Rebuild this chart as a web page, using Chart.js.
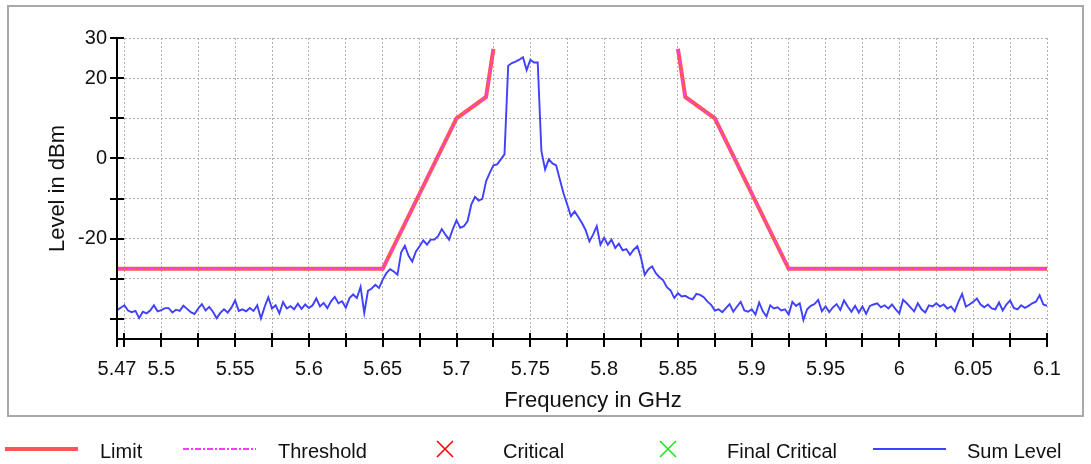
<!DOCTYPE html>
<html><head><meta charset="utf-8">
<script src="https://cdn.jsdelivr.net/npm/chart.js@4.4.1/dist/chart.umd.min.js"></script>
<style>html,body{margin:0;padding:0;background:#fff;}#wrap{width:1091px;height:464px;}</style>
</head><body><div id="wrap"><canvas id="c" width="1091" height="464"></canvas></div>
<script>
const FONT = '"Liberation Sans", Arial, sans-serif';

// Sweep grid (GHz) and measured sum level (dBm)
const sweepStart = 5.47;
const sweepStep = 0.0025;
const sumLevel = [
-37.8,-37.2,-36.6,-37.9,-38.3,-38.0,-39.8,-38.2,-38.6,-37.9,
-36.6,-38.1,-37.8,-37.3,-37.3,-38.4,-37.7,-38.0,-36.7,-37.5,
-38.3,-38.8,-37.4,-36.3,-37.9,-37.0,-38.2,-39.8,-38.5,-37.6,
-38.4,-37.2,-35.4,-38.0,-37.6,-38.1,-37.3,-38.0,-36.6,-39.9,
-37.0,-34.6,-37.4,-36.6,-38.6,-35.8,-37.4,-36.8,-37.6,-36.2,
-37.5,-36.4,-37.3,-36.6,-34.9,-36.9,-36.0,-37.3,-35.6,-34.5,
-36.1,-35.6,-37.2,-34.8,-33.9,-34.8,-32.0,-38.5,-33.0,-32.4,
-31.5,-32.3,-30.2,
-28.6,-27.6,-28.2,-29.0,-23.4,-21.75,-24.25,-25.7,-23.2,-21.9,
-20.4,-21.5,-20.25,-20.25,-19.4,-17.6,-19.0,-20.25,-17.6,-15.4,
-17.3,-16.9,-15.6,-11.5,-9.6,-10.5,-10.1,-5.7,-3.6,-1.75,
-1.5,-0.25,1.0,
23.1,23.75,24.1,24.6,25.2,22.0,24.6,23.9,23.9,1.8,
-2.75,-0.25,-1.25,-1.75,-5.25,-8.75,-11.5,-14.4,-13.2,-14.6,
-16.1,-17.9,-20.7,-19.0,-16.9,-21.5,-19.8,-21.5,-20.25,-22.3,
-21.25,-22.9,-22.6,-24.0,-22.75,-21.9,-24.8,-29.0,-27.6,-26.9,
-28.6,-29.6,-30.4,-32.1,-32.9,-34.8,-33.6,-34.4,-34.25,-34.8,
-35.1,-33.75,-34.0,-34.6,-35.7,-36.5,-37.9,-37.6,-38.3,-37.3,
-36.3,-38.2,-36.9,-35.75,-37.9,-38.2,-37.6,-38.9,-35.9,-38.1,
-39.4,-36.6,-37.4,-37.1,-37.9,-37.6,-38.9,-35.75,-36.75,-36.1,
-40.25,-37.6,-36.75,-36.3,-35.25,-38.1,-36.9,-38.3,-37.1,-36.3,
-37.75,-35.4,-36.9,-38.2,-36.75,-38.4,-36.9,-38.75,
-36.75,-36.4,-36.1,-37.1,-36.6,-37.4,-36.4,-37.6,-38.6,-35.25,
-36.1,-37.1,-38.1,-36.1,-37.6,-38.4,-36.6,-36.9,-36.1,-36.9,
-36.4,-37.4,-36.9,-38.1,-35.75,-33.75,-36.9,-36.4,-35.75,-34.9,
-36.4,-37.1,-36.4,-37.4,-37.6,-35.9,-37.9,-36.4,-35.4,-37.25,
-37.6,-36.6,-37.25,-36.75,-36.1,-35.7,-34.1,-36.4,-36.75
];

// Limit / threshold mask (null = gap)
const limitFreq  = [5.47, 5.65, 5.70, 5.72, 5.725, 5.7875, 5.85, 5.855, 5.875, 5.925, 6.10];
const limitLevel = [-27.5, -27.5, 10, 15.3, 27.3, null, 27.3, 15.3, 10, -27.5, -27.5];

// Axis ticks
const xTickValues = [5.47,5.475,5.5,5.525,5.55,5.575,5.6,5.625,5.65,5.675,5.7,5.725,5.75,5.775,5.8,5.825,5.85,5.875,5.9,5.925,5.95,5.975,6.0,6.025,6.05,6.075,6.1];
const xLabelValues = [5.47,5.5,5.55,5.6,5.65,5.7,5.75,5.8,5.85,5.9,5.95,6.0,6.05,6.1];
const yTickValues = [30,20,10,0,-10,-20,-30,-40];
const yLabelValues = [30,20,0,-20];

const seriesNames = ['Limit','Threshold','Critical','Final Critical','Sum Level'];

const sumPoints = sumLevel.map((v,i)=>({x: Math.round((sweepStart + i*sweepStep)*10000)/10000, y: v}));
const limitPoints = limitFreq.map((f,i)=>({x: f, y: limitLevel[i]}));

const hasVal = (arr, v) => arr.some(a => Math.abs(a - v) < 1e-6);

const legendLayout = [
  {sx: 5,   tx: 100},
  {sx: 183, tx: 278},
  {sx: 409, tx: 503},
  {sx: 632, tx: 727},
  {sx: 873, tx: 967}
];

const decor = {
  id: 'decor',
  beforeDraw(chart) {
    const ctx = chart.ctx;
    ctx.save();
    ctx.fillStyle = '#fff';
    ctx.fillRect(0, 0, chart.width, chart.height);
    ctx.strokeStyle = '#a8a8a8';
    ctx.lineWidth = 2;
    ctx.strokeRect(8, 6, 1075, 410);
    ctx.restore();
  },
  afterDraw(chart) {
    const {ctx, scales: {x, y}, chartArea: a} = chart;
    ctx.save();
    ctx.strokeStyle = '#000';
    ctx.lineWidth = 2;
    ctx.beginPath();
    ctx.moveTo(a.left, a.top); ctx.lineTo(a.left, a.bottom);
    ctx.moveTo(a.left, a.bottom); ctx.lineTo(a.right, a.bottom);
    for (const v of yTickValues) {
      const py = Math.round(y.getPixelForValue(v));
      ctx.moveTo(a.left - 7, py); ctx.lineTo(a.left + 7, py);
    }
    for (const v of xTickValues) {
      const px = Math.round(x.getPixelForValue(v));
      ctx.moveTo(px, a.bottom - 6); ctx.lineTo(px, a.bottom + 8);
    }
    ctx.stroke();

    ctx.fillStyle = '#111';
    ctx.font = '22px ' + FONT;
    ctx.textAlign = 'center';
    ctx.textBaseline = 'middle';
    ctx.fillText('Frequency in GHz', 593, 401);

    // legend
    const ly = 449;
    chart.data.datasets.forEach((ds, i) => {
      const L = legendLayout[i];
      ctx.save();
      ctx.strokeStyle = ds.borderColor;
      if (ds.pointStyle === 'crossRot') {
        const cx = L.sx + 36, r = 8;
        ctx.lineWidth = 1.6;
        ctx.beginPath();
        ctx.moveTo(cx - r, ly - r); ctx.lineTo(cx + r, ly + r);
        ctx.moveTo(cx + r, ly - r); ctx.lineTo(cx - r, ly + r);
        ctx.stroke();
      } else {
        ctx.lineWidth = ds.legendWidth;
        ctx.setLineDash(ds.legendDash || []);
        ctx.beginPath();
        ctx.moveTo(L.sx, ly); ctx.lineTo(L.sx + 73, ly);
        ctx.stroke();
      }
      ctx.restore();
      ctx.fillStyle = '#111';
      ctx.font = '20px ' + FONT;
      ctx.textAlign = 'left';
      ctx.textBaseline = 'alphabetic';
      ctx.fillText(ds.label, L.tx, 458);
    });
    ctx.restore();
  }
};

new Chart(document.getElementById('c'), {
  type: 'line',
  data: {
    datasets: [
      {label: seriesNames[0], data: limitPoints, borderColor: 'rgb(255,84,84)', borderWidth: 4, legendWidth: 4, pointRadius: 0, spanGaps: false, order: 3},
      {label: seriesNames[1], data: limitPoints, borderColor: 'rgb(255,60,255)', borderWidth: 1.5, legendWidth: 2, borderDash: [5,2,1.5,2], legendDash: [6,2,2,2], pointRadius: 0, spanGaps: false, order: 2},
      {label: seriesNames[2], data: [], borderColor: 'rgb(255,0,0)', pointStyle: 'crossRot', showLine: false, order: 1},
      {label: seriesNames[3], data: [], borderColor: 'rgb(30,230,30)', pointStyle: 'crossRot', showLine: false, order: 1},
      {label: seriesNames[4], data: sumPoints, borderColor: 'rgb(64,64,255)', borderWidth: 1.9, legendWidth: 2, pointRadius: 0, tension: 0, order: 4}
    ]
  },
  options: {
    responsive: false,
    animation: false,
    devicePixelRatio: 1,
    layout: {padding: {top: 38, right: 44, bottom: 45, left: 0}},
    plugins: {legend: {display: false}, tooltip: {enabled: false}},
    scales: {
      x: {
        type: 'linear', min: 5.47, max: 6.1,
        afterBuildTicks: s => { s.ticks = xTickValues.map(v => ({value: v})); },
        afterFit: s => { s.height = 80; },
        ticks: {
          autoSkip: false, maxRotation: 0, minRotation: 0, padding: 18,
          color: '#111', font: {family: FONT, size: 20},
          callback: v => hasVal(xLabelValues, v) ? String(+v.toFixed(3)) : ''
        },
        grid: {color: '#b0b0b0', lineWidth: 1, drawTicks: false},
        border: {display: false, dash: [2, 2]}
      },
      y: {
        type: 'linear', min: -45, max: 30,
        afterBuildTicks: s => { s.ticks = yTickValues.map(v => ({value: v})); },
        afterFit: s => { s.width = 117; },
        ticks: {
          autoSkip: false, padding: 10,
          color: '#111', font: {family: FONT, size: 20},
          callback: v => hasVal(yLabelValues, v) ? String(v) : ''
        },
        grid: {color: '#b0b0b0', lineWidth: 1, drawTicks: false},
        border: {display: false, dash: [2, 2]},
        title: {display: true, text: 'Level in dBm', color: '#111', font: {family: FONT, size: 22}, padding: {top: 45, bottom: 0}}
      }
    }
  },
  plugins: [decor]
});
</script>
</body></html>
